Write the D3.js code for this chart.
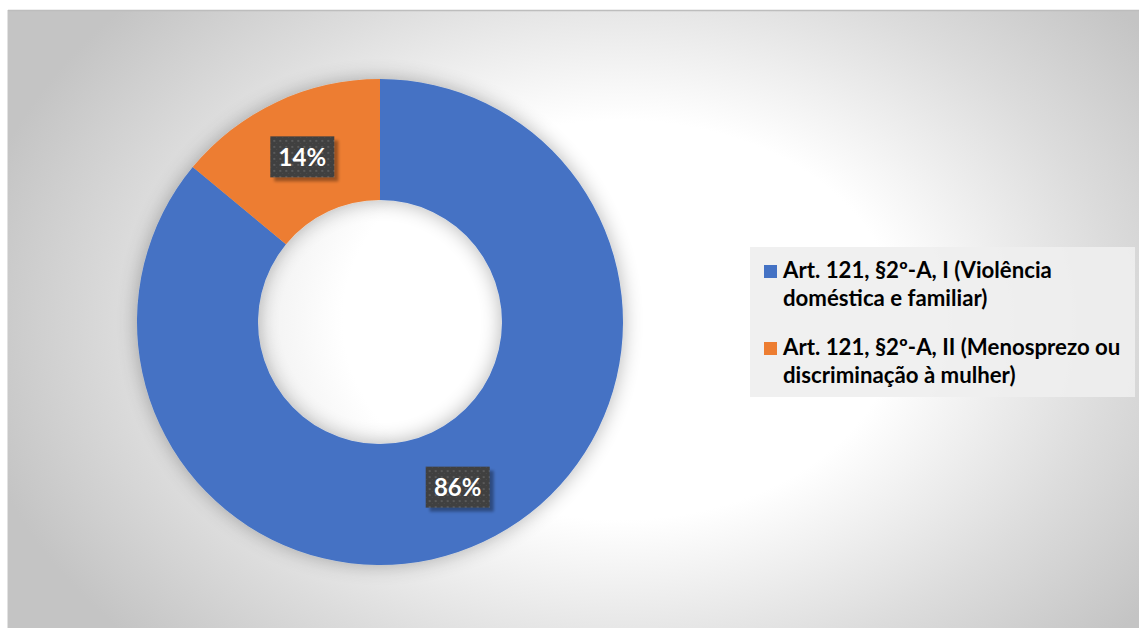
<!DOCTYPE html>
<html>
<head>
<meta charset="utf-8">
<script src="https://cdn.jsdelivr.net/npm/d3@7"></script>
<style>
  html, body { margin: 0; padding: 0; background: #ffffff; }
  svg { display: block; }
  text { font-family: Lato, "Open Sans", "DejaVu Sans", sans-serif; font-weight: 700; }
</style>
</head>
<body>
<svg id="chart" width="1139" height="628"></svg>
<script>
// Shares of cases by qualifier of Art. 121, §2º-A
const categories = [
  "Art. 121, §2º-A, I (Violência doméstica e familiar)",
  "Art. 121, §2º-A, II (Menosprezo ou discriminação à mulher)"
];
const legendLines = [
  ["Art. 121, §2º-A, I (Violência", "doméstica e familiar)"],
  ["Art. 121, §2º-A, II (Menosprezo ou", "discriminação à mulher)"]
];
const values = [86, 14];
const colors = ["#4472C4", "#ED7D31"];

const W = 1139, H = 628;
const svg = d3.select("#chart");
const defs = svg.append("defs");

// Soft radial fill of the chart area
const bg = defs.append("radialGradient")
  .attr("id", "bgGrad")
  .attr("gradientUnits", "userSpaceOnUse")
  .attr("cx", 620).attr("cy", 320).attr("r", 660)
  .attr("gradientTransform", "translate(620,320) scale(1,0.72) translate(-620,-320)");
bg.append("stop").attr("offset", "0").attr("stop-color", "#ffffff");
bg.append("stop").attr("offset", "0.42").attr("stop-color", "#ffffff");
bg.append("stop").attr("offset", "0.75").attr("stop-color", "#dcdcdc");
bg.append("stop").attr("offset", "1").attr("stop-color", "#c4c4c4");

// Halo shadow behind the ring
const ringShadow = defs.append("filter").attr("id", "ringShadow")
  .attr("x", "-30%").attr("y", "-30%").attr("width", "160%").attr("height", "160%");
ringShadow.append("feGaussianBlur").attr("in", "SourceAlpha").attr("stdDeviation", 10).attr("result", "b");
ringShadow.append("feOffset").attr("in", "b").attr("dx", 0).attr("dy", 0).attr("result", "o");
ringShadow.append("feComponentTransfer").attr("in", "o").attr("result", "s")
  .append("feFuncA").attr("type", "linear").attr("slope", 0.3);
const rm = ringShadow.append("feMerge");
rm.append("feMergeNode").attr("in", "s");
rm.append("feMergeNode").attr("in", "SourceGraphic");

// Shadow for the value boxes
const boxShadow = defs.append("filter").attr("id", "boxShadow")
  .attr("x", "-20%").attr("y", "-20%").attr("width", "150%").attr("height", "160%");
boxShadow.append("feGaussianBlur").attr("in", "SourceAlpha").attr("stdDeviation", 1.5).attr("result", "b");
boxShadow.append("feOffset").attr("in", "b").attr("dx", 4).attr("dy", 4).attr("result", "o");
boxShadow.append("feComponentTransfer").attr("in", "o").attr("result", "s")
  .append("feFuncA").attr("type", "linear").attr("slope", 0.35);
const bm = boxShadow.append("feMerge");
bm.append("feMergeNode").attr("in", "s");
bm.append("feMergeNode").attr("in", "SourceGraphic");

// Dotted dark texture for the value boxes
const pat = defs.append("pattern").attr("id", "dots")
  .attr("patternUnits", "userSpaceOnUse").attr("width", 6).attr("height", 6);
pat.append("rect").attr("width", 6).attr("height", 6).attr("fill", "#3f3f3f");
pat.append("rect").attr("x", 1).attr("y", 1).attr("width", 2).attr("height", 2).attr("fill", "#5a5a5a");
pat.append("rect").attr("x", 4).attr("y", 4).attr("width", 1).attr("height", 1).attr("fill", "#505050");

// Chart area
svg.append("rect").attr("x", 8).attr("y", 10).attr("width", W - 8).attr("height", H - 10)
  .attr("fill", "url(#bgGrad)");
svg.append("line").attr("x1", 8).attr("x2", W).attr("y1", 10.5).attr("y2", 10.5)
  .attr("stroke", "#bdbdbd").attr("stroke-width", 1.5);
svg.append("line").attr("x1", 7.5).attr("x2", 7.5).attr("y1", 10).attr("y2", H)
  .attr("stroke", "#e2e2e2").attr("stroke-width", 1);

// Donut
const cx = 380, cy = 322, outerR = 243, innerR = 122;
const pie = d3.pie().sort(null).value(d => d)(values);
const arc = d3.arc().innerRadius(innerR).outerRadius(outerR);
const labelArc = d3.arc().innerRadius((innerR + outerR) / 2).outerRadius((innerR + outerR) / 2);

const g = svg.append("g").attr("transform", `translate(${cx},${cy})`);
g.append("g").attr("filter", "url(#ringShadow)")
  .selectAll("path").data(pie).join("path")
  .attr("d", arc)
  .attr("fill", (d, i) => colors[i]);

// Value labels
const fmt = d3.format(".0%");
const total = d3.sum(values);
const lab = g.selectAll("g.lab").data(pie).join("g").attr("class", "lab")
  .attr("transform", d => `translate(${labelArc.centroid(d)})`);
lab.append("rect")
  .attr("x", -32).attr("y", -20.5).attr("width", 64).attr("height", 41)
  .attr("fill", "url(#dots)")
  .attr("filter", "url(#boxShadow)");
lab.append("text")
  .attr("text-anchor", "middle")
  .attr("dy", "0.36em")
  .attr("fill", "#ffffff")
  .attr("font-size", 24)
  .attr("font-weight", 900)
  .text(d => fmt(d.data / total));

// Legend
svg.append("rect").attr("x", 750).attr("y", 247).attr("width", 385).attr("height", 150)
  .attr("fill", "#eeeeee").attr("fill-opacity", 0.9);

const legend = svg.append("g");
const itemY = [278, 355];
const lineGap = 28;
const items = legend.selectAll("g").data(categories).join("g")
  .attr("transform", (d, i) => `translate(0,${itemY[i]})`);
items.append("rect")
  .attr("x", 764).attr("y", -13).attr("width", 13).attr("height", 13)
  .attr("fill", (d, i) => colors[i]);
const txt = items.append("text")
  .attr("x", 783)
  .attr("fill", "#000000")
  .attr("font-size", 20);
txt.selectAll("tspan").data((d, i) => legendLines[i]).join("tspan")
  .attr("x", 783)
  .attr("dy", (d, j) => j === 0 ? 0 : lineGap)
  .text(d => d);

// Scale legend type so the first line spans the intended width
const firstLine = txt.nodes()[0].querySelector("tspan");
const w = firstLine.getComputedTextLength();
const fs = 20 * 269 / w;
txt.attr("font-size", fs);
</script>
</body>
</html>
